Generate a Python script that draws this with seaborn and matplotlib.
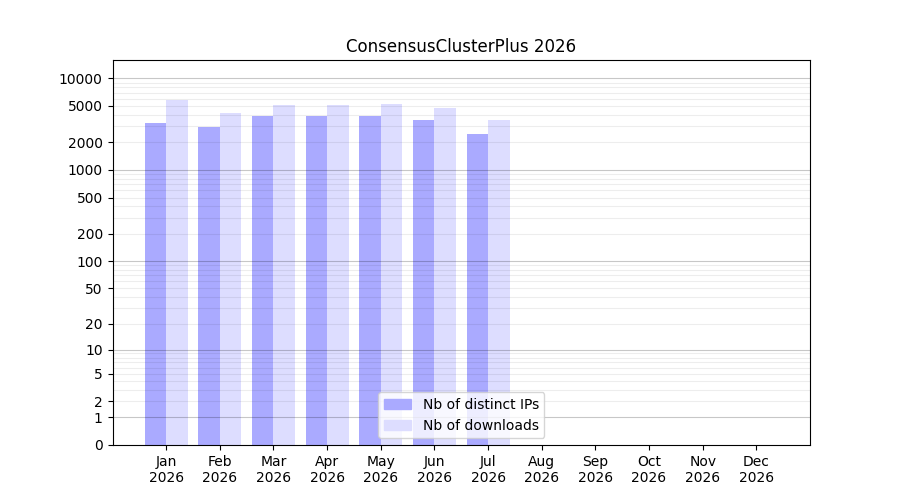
import numpy as np
import pandas as pd
import matplotlib
matplotlib.use('Agg')
import matplotlib.pyplot as plt
import seaborn as sns

months = ['Jan', 'Feb', 'Mar', 'Apr', 'May', 'Jun',
          'Jul', 'Aug', 'Sep', 'Oct', 'Nov', 'Dec']
year = 2026
distinct_ips = [3270, 2960, 3890, 3890, 3890, 3520, 2480,
                np.nan, np.nan, np.nan, np.nan, np.nan]
downloads = [5810, 4200, 5130, 5130, 5250, 4750, 3520,
             np.nan, np.nan, np.nan, np.nan, np.nan]
series_names = ['Nb of distinct IPs', 'Nb of downloads']
series_colors = ['#aaaaff', '#ddddff']
ytick_values = [0, 1, 2, 5, 10, 20, 50, 100, 200, 500, 1000, 2000, 5000, 10000]

df = pd.DataFrame({
    'month': months * 2,
    'value': distinct_ips + downloads,
    'series': [series_names[0]] * 12 + [series_names[1]] * 12,
})

fig, ax = plt.subplots(figsize=(9, 5), dpi=100)

# log(1+x) scale so that 0 can be shown
ax.set_yscale('function', functions=(lambda v: np.log10(1 + np.clip(v, 0, None)),
                                     lambda v: 10 ** v - 1))

sns.barplot(data=df, x='month', y='value', hue='series', order=months,
            hue_order=series_names, palette=series_colors, saturation=1,
            width=0.8, ax=ax, legend=False)

ax.set_xlim(-1, 12)
ax.set_ylim(0, 10 ** 4.2)
ax.set_xticks(range(len(months)))
ax.set_xticklabels([f'{m}\n{year}' for m in months])
ax.set_yticks(ytick_values)
ax.set_yticklabels([str(v) for v in ytick_values])
ax.set_xlabel('')
ax.set_ylabel('')
ax.set_title(f'ConsensusClusterPlus {year}')

# grid: decades darker, in-between steps lighter
for dec in [1, 10, 100, 1000, 10000]:
    ax.axhline(dec, color='black', alpha=0.22, lw=0.8, zorder=3)
    if dec < 10000:
        for k in range(2, 10):
            ax.axhline(dec * k, color='black', alpha=0.07, lw=0.8, zorder=3)
ax.axhline(10000 * 1.0, color='black', alpha=0.0)

handles = [plt.Rectangle((0, 0), 1, 1, color=c) for c in series_colors]
ax.legend(handles, series_names, loc='lower center')

fig.savefig('out.png', dpi=100)
